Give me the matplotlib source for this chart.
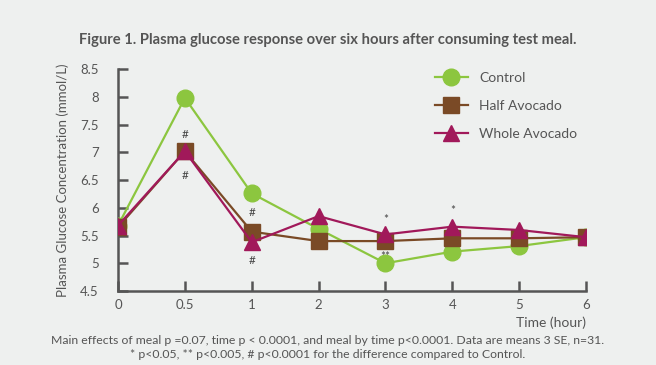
import matplotlib
matplotlib.use("Agg")
import matplotlib.pyplot as plt

times = ["0", "0.5", "1", "2", "3", "4", "5", "6"]
control = [5.68, 7.98, 6.26, 5.62, 5.00, 5.21, 5.31, 5.47]
half_avocado = [5.65, 7.02, 5.57, 5.40, 5.40, 5.45, 5.45, 5.47]
whole_avocado = [5.68, 7.02, 5.38, 5.85, 5.52, 5.66, 5.60, 5.47]
series_names = ["Control", "Half Avocado", "Whole Avocado"]
# significance marks: (time index, y value, label)
marks = [(1, 7.33, "#"), (1, 6.59, "#"), (2, 5.92, "#"), (2, 5.05, "#"),
         (4, 5.79, "*"), (4, 5.12, "**"), (5, 5.95, "*")]

bg = "#eef0ef"
plt.rcParams['font.family'] = ['Lato', 'DejaVu Sans']
fig = plt.figure(figsize=(6.56, 3.65), dpi=100, facecolor=bg)
ax = fig.add_axes([0.1799, 0.2027, 0.7134, 0.608], facecolor=bg)

x = list(range(len(times)))
ax.plot(x, control, color="#8cc63f", lw=1.6, marker="o", ms=12, label=series_names[0], zorder=3)
ax.plot(x, half_avocado, color="#7a4a26", lw=1.6, marker="s", ms=11, label=series_names[1], zorder=4)
ax.plot(x, whole_avocado, color="#a1195a", lw=1.6, marker="^", ms=12, label=series_names[2], zorder=5)

for i, yv, s in marks:
    ax.text(i, yv, s, ha="center", va="center", fontsize=8.5, color="#444444", zorder=6)

ax.set_xlim(0, 7)
ax.set_ylim(4.5, 8.5)
ax.set_xticks(x)
ax.set_xticklabels(times)
yt = [4.5, 5, 5.5, 6, 6.5, 7, 7.5, 8, 8.5]
ax.set_yticks(yt)
ax.set_yticklabels([f"{v:g}" for v in yt])
ax.tick_params(direction="in", length=7, width=1.8, color="#555555", labelcolor="#555555", labelsize=9.5)
ax.tick_params(axis="y", pad=14)
ax.tick_params(axis="x", pad=6)
for s in ["top", "right"]:
    ax.spines[s].set_visible(False)
for s in ["left", "bottom"]:
    ax.spines[s].set_color("#555555")
    ax.spines[s].set_linewidth(1.8)

ax.set_ylabel("Plasma Glucose Concentration (mmol/L)", fontsize=9.5, color="#555555", labelpad=8)
fig.text(0.8933, 0.115, "Time (hour)", ha="right", va="center", fontsize=10, color="#555555")

leg = ax.legend(loc="upper left", bbox_to_anchor=(0.65, 1.045), frameon=False, fontsize=10,
                labelcolor="#555555", handlelength=2.4, labelspacing=1.15)

fig.text(0.5, 0.89, "Figure 1. Plasma glucose response over six hours after consuming test meal.",
         ha="center", va="center", fontsize=10.6, fontweight="bold", color="#555555")
fig.text(0.5, 0.066, "Main effects of meal p =0.07, time p < 0.0001, and meal by time p<0.0001. Data are means 3 SE, n=31.",
         ha="center", va="center", fontsize=8.8, color="#555555")
fig.text(0.5, 0.030, "* p<0.05, ** p<0.005, # p<0.0001 for the difference compared to Control.",
         ha="center", va="center", fontsize=8.8, color="#555555")

fig.savefig("out.png", dpi=100, facecolor=bg)
